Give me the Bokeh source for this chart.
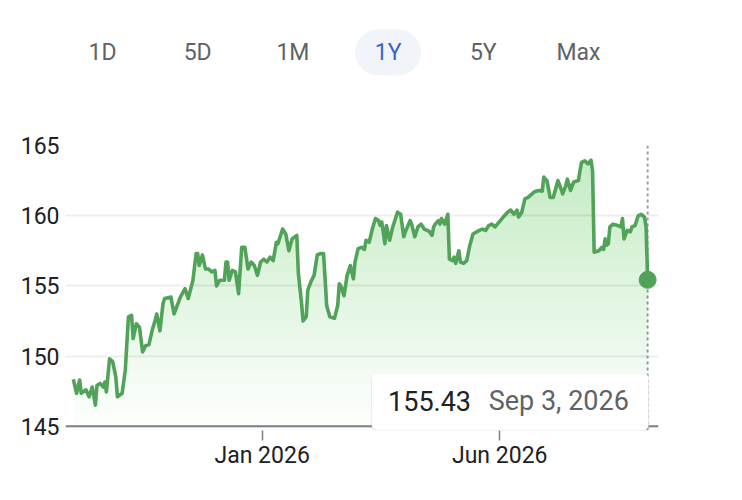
import numpy as np
import pandas as pd
from bokeh.plotting import figure
from bokeh.models import (Range1d, FixedTicker, DatetimeTickFormatter, Span,
                          BoxAnnotation, Label, ColumnDataSource)
from bokeh.layouts import column
from bokeh.embed import file_html
from bokeh.resources import INLINE
from bokeh.core.properties import value

# ---------------- data ----------------
start_date = "2025-09-03"
day_offsets = [0, 2, 4, 5, 8, 10, 12, 14, 15, 17,
               19, 20, 21, 23, 25, 27, 28, 31, 33, 35,
               37, 38, 40, 42, 44, 46, 48, 50, 52, 53,
               55, 57, 58, 62, 64, 68, 71, 73, 76, 78,
               79, 80, 82, 84, 86, 88, 90, 91, 93, 96,
               97, 98, 99, 101, 103, 105, 107, 109, 111, 113,
               115, 117, 119, 121, 123, 125, 127, 129, 130, 133,
               135, 137, 139, 142, 143, 145, 146, 148, 149, 151,
               153, 155, 157, 159, 160, 161, 163, 166, 168, 169,
               170, 172, 174, 176, 178, 179, 181, 183, 185, 186,
               188, 190, 192, 194, 195, 196, 198, 199, 201, 203,
               206, 208, 210, 211, 214, 215, 217, 219, 221, 223,
               226, 228, 229, 230, 232, 233, 234, 236, 238, 239,
               241, 242, 243, 245, 246, 248, 250, 252, 254, 258,
               260, 262, 264, 266, 268, 271, 274, 276, 278, 280,
               282, 283, 285, 287, 289, 293, 296, 298, 299, 301,
               303, 305, 308, 310, 311, 313, 314, 316, 318, 321,
               322, 323, 325, 327, 329, 330, 331, 334, 336, 337,
               338, 339, 340, 341, 343, 346, 348, 349, 350, 352,
               354, 355, 357, 359, 361, 363, 364, 365]
prices = [148.35, 147.35, 148.3, 147.35, 147.6, 147.1, 147.8, 146.5, 147.9, 148.05,
          147.8, 148.15, 147.45, 149.8, 149.6, 148.5, 147.1, 147.35, 149.0, 152.8,
          152.9, 151.25, 152.3, 152.05, 150.3, 150.75, 150.8, 151.8, 152.55, 153.0,
          151.8, 153.75, 154.1, 154.2, 153.0, 154.2, 154.8, 154.1, 155.4, 157.3,
          157.3, 156.45, 157.2, 156.2, 156.2, 156.0, 156.1, 155.0, 155.4, 155.4,
          156.7, 156.7, 155.4, 156.1, 156.0, 154.45, 157.75, 157.75, 156.2, 156.7,
          156.45, 155.75, 156.7, 156.9, 156.7, 157.05, 156.8, 158.1, 158.0, 159.05,
          158.7, 157.5, 158.35, 158.6, 155.9, 153.8, 152.5, 152.8, 154.7, 155.3,
          155.75, 157.2, 157.3, 157.3, 155.5, 153.6, 152.8, 152.7, 153.6, 155.15,
          155.0, 154.3, 155.75, 156.45, 155.5, 156.7, 157.65, 157.75, 157.6, 158.25,
          158.1, 159.05, 159.8, 159.65, 159.3, 159.55, 158.0, 159.3, 158.25, 159.2,
          160.25, 160.1, 158.5, 158.85, 159.65, 159.4, 158.5, 159.2, 159.4, 159.05,
          158.9, 158.6, 159.2, 159.4, 159.65, 159.4, 159.8, 159.4, 160.1, 156.9,
          156.8, 157.05, 156.6, 157.5, 156.7, 156.6, 156.8, 157.9, 158.7, 158.95,
          159.05, 158.95, 159.3, 159.4, 159.2, 159.6, 160.0, 160.25, 160.4, 160.1,
          160.4, 159.9, 160.25, 161.2, 161.3, 161.7, 161.8, 161.75, 162.75, 162.5,
          161.3, 161.3, 162.5, 161.9, 161.55, 162.15, 162.6, 161.8, 162.4, 162.5,
          163.2, 163.8, 163.9, 163.7, 163.95, 163.2, 157.4, 157.5, 157.75, 157.6,
          158.35, 157.9, 158.0, 159.2, 159.4, 159.3, 159.2, 159.8, 158.35, 158.95,
          158.85, 159.2, 159.3, 160.0, 160.1, 159.9, 159.2, 155.43]
tab_labels = ["1D", "5D", "1M", "1Y", "5Y", "Max"]
active_tab = "1Y"
y_ticks = [145, 150, 155, 160, 165]
x_tick_dates = ["2026-01-01", "2026-06-01"]

# ---------------- styles ----------------
FONT = "Roboto"
GREEN = "#52a35a"
TEXT = "#202124"
GREY_TEXT = "#5f6368"
AXIS_GREY = "#7d8185"
W = 730
FL, FR = 65, 658          # frame left / right (px)

dates = pd.Timestamp(start_date) + pd.to_timedelta(day_offsets, unit="D")
price_arr = np.array(prices)
src = ColumnDataSource(dict(date=dates, price=price_arr))


def ms(ts):
    return pd.Timestamp(ts).value / 1e6


# ---------------- tabs ----------------
tabs = figure(width=W, height=108, output_backend="svg", toolbar_location=None,
              x_range=Range1d(FL, FR), y_range=Range1d(0, 108),
              x_axis_location=None, y_axis_location=None,
              min_border_left=FL, min_border_right=W - FR,
              min_border_top=0, min_border_bottom=0, outline_line_color=None)
tabs.grid.visible = False
tab_x = [102 + i * 95.2 for i in range(len(tab_labels))]
ai = tab_labels.index(active_tab)
tabs.add_layout(BoxAnnotation(left=tab_x[ai] - 33, right=tab_x[ai] + 33,
                              bottom=56 - 23, top=56 + 23, border_radius=23,
                              fill_color="#f1f4f9", fill_alpha=1.0,
                              line_color=None, level="underlay"))
colors = ["#3d64c9" if t == active_tab else GREY_TEXT for t in tab_labels]
tabs.text(x=tab_x, y=[56] * len(tab_labels), text=tab_labels,
          text_color=colors, text_font=value(FONT), text_font_size="23px",
          text_align="center", text_baseline="middle")

# ---------------- main chart ----------------
x_start = dates[0] - pd.Timedelta(days=5.0)
x_end = dates[-1] + pd.Timedelta(days=6.9)
p = figure(width=W, height=384, output_backend="svg", toolbar_location=None,
           x_axis_type="datetime", x_range=Range1d(x_start, x_end),
           y_range=Range1d(144.7, 165),
           min_border_left=FL, min_border_right=W - FR, min_border_top=37,
           min_border_bottom=62, outline_line_color=None)

p.xgrid.visible = False
p.ygrid.grid_line_color = "#eeeeee"
p.ygrid.grid_line_width = 2
p.yaxis.ticker = FixedTicker(ticks=y_ticks)
p.yaxis.axis_line_color = None
p.yaxis.major_tick_line_color = None
p.yaxis.minor_tick_line_color = None
p.yaxis.major_label_standoff = 0
p.yaxis.major_label_text_font = FONT
p.yaxis.major_label_text_font_size = "23px"
p.yaxis.major_label_text_color = TEXT

p.xaxis.ticker = FixedTicker(ticks=[ms(d) for d in x_tick_dates])
fmt = "%b %Y"
p.xaxis.formatter = DatetimeTickFormatter(years=fmt, months=fmt, days=fmt,
                                          hours=fmt, minutes=fmt)
p.xaxis.axis_line_color = None
p.xaxis.major_tick_line_color = AXIS_GREY
p.xaxis.major_tick_line_width = 1.5
p.xaxis.major_tick_out = 10
p.xaxis.major_tick_in = 0
p.xaxis.minor_tick_line_color = None
p.xaxis.major_label_standoff = 1
p.xaxis.major_label_text_font = FONT
p.xaxis.major_label_text_font_size = "23px"
p.xaxis.major_label_text_color = TEXT

# baseline (axis line) at the lowest tick
p.add_layout(Span(location=y_ticks[0], dimension="width", line_color=AXIS_GREY,
                  line_width=2, level="underlay"))

# gradient-like fill (stacked translucent bands by height)
for lvl in np.arange(y_ticks[0], y_ticks[-1], 1.0):
    p.varea(x=dates, y1=lvl, y2=np.maximum(price_arr, lvl),
            fill_color=GREEN, fill_alpha=0.014)

# dotted marker line at the last point
last_date = dates[-1]
last_price = prices[-1]
p.add_layout(Span(location=ms(last_date), dimension="height",
                  line_color="#9aa0a6", line_dash="3 3", line_width=2,
                  level="underlay"))

p.line("date", "price", source=src, line_color=GREEN, line_width=3.6,
       line_join="round")
p.scatter(x=[last_date], y=[last_price], size=17, color=GREEN)

# tooltip box
day = 86400000.0
lx = ms(last_date)
p.add_layout(BoxAnnotation(left=lx - 175.6 * day, right=lx + 1.0 * day,
                           bottom=144.58, top=148.70, border_radius=7,
                           fill_color="#000000", fill_alpha=0.10,
                           line_color=None, level="overlay"))
p.add_layout(BoxAnnotation(left=lx - 175.3 * day, right=lx + 0.5 * day,
                           bottom=144.72, top=148.77, border_radius=5,
                           fill_color="white", fill_alpha=1.0,
                           line_color="#e3e3e3", line_width=1, level="overlay"))
p.add_layout(Label(x=lx - 165.0 * day, y=146.78, text=f"{last_price:.2f}",
                   text_font=FONT, text_font_size="27px", text_color=TEXT,
                   text_baseline="middle", text_align="left", level="overlay"))
p.add_layout(Label(x=lx - 101.0 * day, y=146.78,
                   text=f"{last_date:%b} {last_date.day}, {last_date.year}",
                   text_font=FONT, text_font_size="27px", text_color=GREY_TEXT,
                   text_baseline="middle", text_align="left", level="overlay"))

layout = column(tabs, p, spacing=0)
open("out.html", "w").write(file_html(layout, INLINE))
